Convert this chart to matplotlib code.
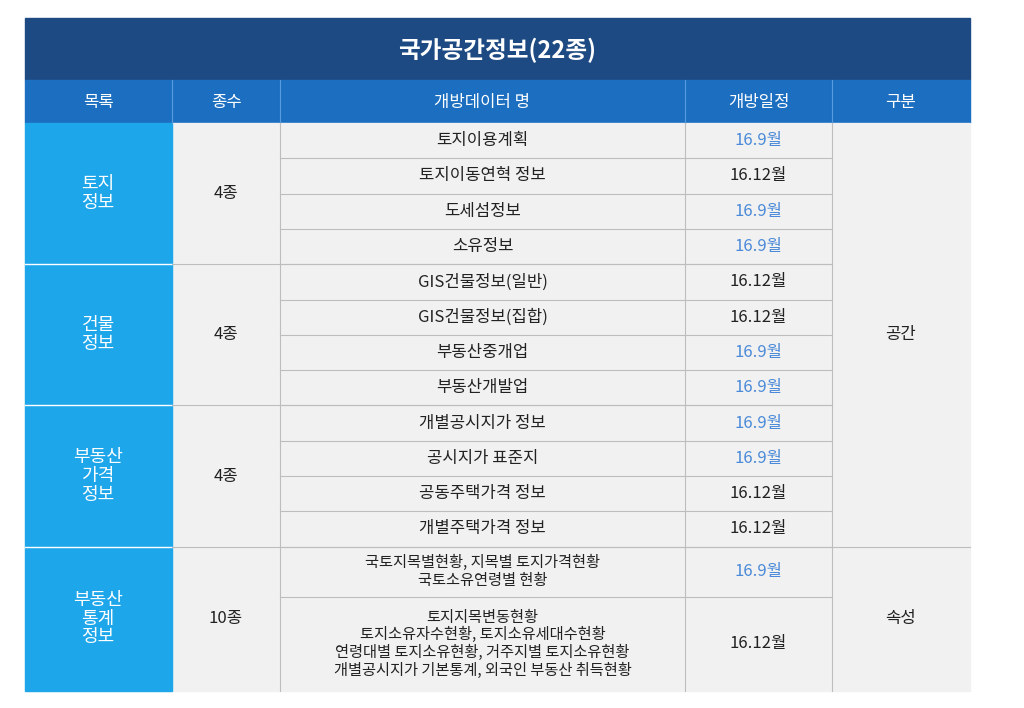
import matplotlib
matplotlib.use("Agg")
import matplotlib.pyplot as plt
from matplotlib.patches import Rectangle

plt.rcParams['font.family'] = ['Noto Sans CJK KR', 'DejaVu Sans']

title = "국가공간정보(22종)"
headers = ["목록", "종수", "개방데이터 명", "개방일정", "구분"]
groups = ["토지\n정보", "건물\n정보", "부동산\n가격\n정보", "부동산\n통계\n정보"]
group_counts = ["4종", "4종", "4종", "10종"]
group_sizes = [4, 4, 4, 2]
names = ["토지이용계획", "토지이동연혁 정보", "도세섬정보", "소유정보",
         "GIS건물정보(일반)", "GIS건물정보(집합)", "부동산중개업", "부동산개발업",
         "개별공시지가 정보", "공시지가 표준지", "공동주택가격 정보", "개별주택가격 정보",
         "국토지목별현황, 지목별 토지가격현황\n국토소유연령별 현황",
         "토지지목변동현황\n토지소유자수현황, 토지소유세대수현황\n연령대별 토지소유현황, 거주지별 토지소유현황\n개별공시지가 기본통계, 외국인 부동산 취득현황"]
dates = ["16.9월", "16.12월", "16.9월", "16.9월", "16.12월", "16.12월", "16.9월", "16.9월",
         "16.9월", "16.9월", "16.12월", "16.12월", "16.9월", "16.12월"]
kinds = [("공간", 12), ("속성", 2)]

col_x = [25, 172, 280, 685, 832, 970]
row_h = [35.3] * 12 + [50, 94]
top = 123

fig = plt.figure(figsize=(10.24, 7.08), dpi=100)
ax = fig.add_axes([0, 0, 1, 1])
ax.set_xlim(0, 1024); ax.set_ylim(708, 0); ax.axis('off')

navy, hdr, cyan, grey, line = "#1d4a82", "#1c6fc0", "#1ea6ea", "#f1f1f1", "#bdbdbd"
blue_txt = "#4a8ad8"

ax.add_patch(Rectangle((25, 18), 945, 62, color=navy))
ax.text(497, 50, title, color="white", fontsize=17, fontweight="bold", ha="center", va="center")
ax.add_patch(Rectangle((25, 80), 945, 43, color=hdr))
for i, h in enumerate(headers):
    ax.text((col_x[i] + col_x[i + 1]) / 2, 102, h, color="white", fontsize=12, ha="center", va="center")
    if i > 0:
        ax.plot([col_x[i]] * 2, [80, 123], color="#5a9be0", lw=0.8)

ys = [top]
for h in row_h:
    ys.append(ys[-1] + h)
bottom = ys[-1]
ax.add_patch(Rectangle((172, top), 798, bottom - top, color=grey))

# rows (name + date)
for i in range(len(names)):
    y0, y1 = ys[i], ys[i + 1]
    ym = (y0 + y1) / 2
    nl = names[i].count("\n") + 1
    ax.text((col_x[2] + col_x[3]) / 2, ym, names[i], fontsize=12 if nl == 1 else 11,
            ha="center", va="center", linespacing=1.05, color="#222222")
    ax.text((col_x[3] + col_x[4]) / 2, ym, dates[i], fontsize=12, ha="center", va="center",
            color=blue_txt if "9" in dates[i] else "#222222")
    if i > 0:
        ax.plot([col_x[2], col_x[4]], [y0, y0], color=line, lw=0.8)

# groups
r = 0
for g, c, n in zip(groups, group_counts, group_sizes):
    y0, y1 = ys[r], ys[r + n]
    ax.add_patch(Rectangle((25, y0), 147, y1 - y0, color=cyan))
    ax.text(98, (y0 + y1) / 2, g, color="white", fontsize=13, ha="center", va="center", linespacing=1.05)
    ax.text(226, (y0 + y1) / 2, c, fontsize=12, ha="center", va="center", color="#222222")
    if r > 0:
        ax.plot([25, 172], [y0, y0], color="white", lw=1)
        ax.plot([172, col_x[4]], [y0, y0], color=line, lw=0.8)
    r += n

r = 0
for k, n in kinds:
    y0, y1 = ys[r], ys[r + n]
    ax.text(901, (y0 + y1) / 2, k, fontsize=12, ha="center", va="center", color="#222222")
    if r > 0:
        ax.plot([col_x[4], col_x[5]], [y0, y0], color=line, lw=0.8)
    r += n

for x in col_x[2:5]:
    ax.plot([x, x], [top, bottom], color=line, lw=0.8)

fig.savefig("out.png", dpi=100, facecolor="white")
